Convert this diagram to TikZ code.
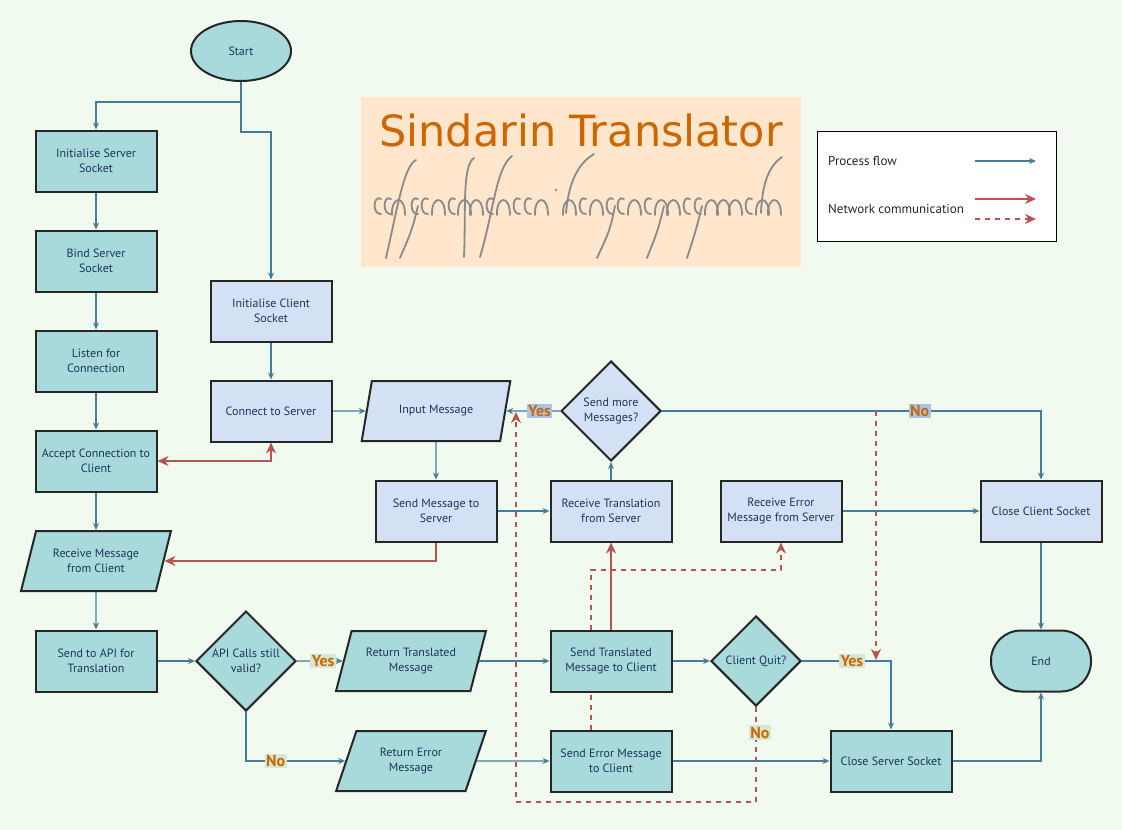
\documentclass[tikz,border=0pt]{standalone}
\usepackage{fontspec}
\setmainfont{PT Sans}
\newfontfamily\titlefont{DejaVu Sans}
\usetikzlibrary{arrows.meta,positioning,shapes.geometric,backgrounds}
\definecolor{pagebg}{HTML}{F1FAEE}
\definecolor{srvfill}{HTML}{A8DADC}
\definecolor{clifill}{HTML}{D4E1F5}
\definecolor{flowblue}{HTML}{457B9D}
\definecolor{textnavy}{HTML}{1D3557}
\definecolor{netred}{HTML}{B85450}
\definecolor{lblorange}{HTML}{CC6600}
\definecolor{lblgreen}{HTML}{D5E8D4}
\definecolor{lblblue}{HTML}{A9C4EB}
\definecolor{titlepeach}{HTML}{FFE6CC}
\definecolor{scriptgray}{HTML}{8A8A8A}
\pgfdeclarelayer{edgelayer}
\pgfsetlayers{background,edgelayer,main}
\tikzset{
  base/.style={draw=black!85,line width=2pt,align=center,text=textnavy,
    font=\fontsize{12}{14.5}\selectfont,inner sep=2pt},
  srvbox/.style={base,rectangle,fill=srvfill,minimum width=121pt,minimum height=61pt},
  clibox/.style={srvbox,fill=clifill},
  srvio/.style={base,trapezium,trapezium left angle=67.4,trapezium right angle=112.6,
    trapezium stretches=true,fill=srvfill,minimum width=150pt,minimum height=60pt},
  cliio/.style={srvio,fill=clifill},
  srvdec/.style={base,diamond,fill=srvfill,minimum width=100pt,minimum height=100pt,inner sep=0pt},
  clidec/.style={srvdec,fill=clifill},
  terminal/.style={base,fill=srvfill},
  flow/.style={-{Stealth[length=7pt,width=6pt]},flowblue,line width=1.1pt},
  net/.style={-{Stealth[length=11pt,width=10pt]},netred,line width=2.2pt},
  netboth/.style={net,{Stealth[length=11pt,width=10pt]}-{Stealth[length=11pt,width=10pt]}},
  netdash/.style={net,line width=2pt,dash pattern=on 5pt off 5pt},
  yeslbl/.style={font=\fontsize{16}{16}\selectfont\bfseries,text=lblorange,fill=lblgreen,inner sep=1.5pt},
  yesclbl/.style={yeslbl,fill=lblblue},
  legendtxt/.style={font=\fontsize{13}{15}\selectfont,text=black!85,inner sep=2pt}
}

\begin{document}
\begin{tikzpicture}[x=1pt,y=-1pt]
  % Page
  \useasboundingbox (0,0) rectangle (1122,830);
  \begin{scope}[on background layer]
    \fill[pagebg] (0,0) rectangle (1122,830);
  \end{scope}

  % Title panel
  \node[fill=titlepeach,minimum width=440pt,minimum height=170pt,inner sep=0pt] (panel) at (581,182) {};
  \node[anchor=base,text=lblorange,font=\titlefont\fontsize{43}{43}\selectfont] (title) at (581,146) {Sindarin Translator};
  % Tengwar line
  \begin{scope}[scriptgray,line width=1.8pt,line cap=round]
    \foreach \bx in {373,383,410,420,447,485,512,523,578,605,616,643,682,693,744}
      \draw (\bx+8,199) .. controls (\bx,194) and (\bx-1,215) .. (\bx+8,214);
    \foreach \bx in {392,432,458,470,497,535,563,590,628,655,667,705,717,729,756,768}
      \draw (\bx,215) .. controls (\bx-1,196) and (\bx+13,194) .. (\bx+13,215);
    \draw (416,160) .. controls (404,166) and (398,205) .. (386,258);
    \draw (418,206) .. controls (412,230) .. (400,258);
    \draw (474,158) .. controls (462,166) and (466,210) .. (464,257);
    \draw (512,156) .. controls (496,168) and (494,210) .. (480,257);
    \draw (594,154) .. controls (574,166) and (568,190) .. (566,213);
    \draw (615,206) .. controls (610,230) .. (597,258);
    \draw (664,206) .. controls (658,230) .. (647,258);
    \draw (702,206) .. controls (696,230) .. (687,258);
    \draw (782,157) .. controls (766,168) and (762,190) .. (761,213);
    \fill (556,190) circle (1.3pt);
  \end{scope}

  % Legend
  \node[draw=black,line width=1pt,fill=white,minimum width=239pt,minimum height=110pt] (legend) at (936.5,186) {};
  \node[legendtxt,anchor=west] (lgflow) at (826,161) {Process flow};
  \node[legendtxt,anchor=west] (lgnet) at (826,209) {Network communication};
  \coordinate (lgflowA) at (975,161);
  \coordinate (lgflowB) at (1036,161);
  \coordinate (lgnetA) at (975,199);
  \coordinate (lgnetB) at (1036,199);
  \coordinate (lgdashA) at (975,219);
  \coordinate (lgdashB) at (1036,219);
  \draw[flow] (lgflowA) -- (lgflowB);
  \draw[net] (lgnetA) -- (lgnetB);
  \draw[netdash] (lgdashA) -- (lgdashB);

  % Server side
  \node[terminal,ellipse,minimum width=100pt,minimum height=60pt] (start) at (241,51) {Start};
  \node[srvbox] (initsrv) at (96,161) {Initialise Server\\Socket};
  \node[srvbox] (bindsrv) at (96,261) {Bind Server\\Socket};
  \node[srvbox] (listen) at (96,361) {Listen for\\Connection};
  \node[srvbox] (accept) at (96,461) {Accept Connection to\\Client};
  \node[srvio] (recvmsg) at (96,561) {Receive Message\\from Client};
  \node[srvbox] (sendapi) at (96,661) {Send to API for\\Translation};
  \node[srvdec] (apivalid) at (246,661) {API Calls still\\valid?};
  \node[srvio] (rettrans) at (411,661) {Return Translated\\Message};
  \node[srvio] (reterr) at (411,761) {Return Error\\Message};
  \node[srvbox] (sendtrans) at (611,661) {Send Translated\\Message to Client};
  \node[srvbox] (senderr) at (611,761) {Send Error Message\\to Client};
  \node[srvdec,minimum width=90pt,minimum height=90pt] (quit) at (756,661) {Client Quit?};
  \node[srvbox] (closesrv) at (891,761) {Close Server Socket};
  \node[terminal,rounded corners=30pt,minimum width=100pt,minimum height=61pt] (theend) at (1041,661) {End};

  % Client side
  \node[clibox] (initcli) at (271,311) {Initialise Client\\Socket};
  \node[clibox] (connect) at (271,411) {Connect to Server};
  \node[cliio] (input) at (436,411) {Input Message};
  \node[clibox] (sendmsg) at (436,511) {Send Message to\\Server};
  \node[clidec] (more) at (611,411) {Send more\\Messages?};
  \node[clibox] (recvtrans) at (611,511) {Receive Translation\\from Server};
  \node[clibox] (recverr) at (781,511) {Receive Error\\Message from Server};
  \node[clibox] (closecli) at (1041,511) {Close Client Socket};

  \begin{pgfonlayer}{edgelayer}
    % Process flow, server
    \draw[flow] (start.south) -- ++(0,20) -| (initsrv.north);
    \draw[flow] (start.south) -- ++(0,50) -| (initcli.north);
    \draw[flow] (initsrv) -- (bindsrv);
    \draw[flow] (bindsrv) -- (listen);
    \draw[flow] (listen) -- (accept);
    \draw[flow] (accept) -- (recvmsg);
    \draw[flow] (recvmsg) -- (sendapi);
    \draw[flow] (sendapi) -- (apivalid);
    \draw[flow] (apivalid) -- node[yeslbl,pos=0.57] (yesapi) {Yes} (rettrans);
    \draw[flow] (apivalid.south) |- node[yeslbl,pos=0.65] (noapi) {No} (reterr.west);
    \draw[flow] (rettrans) -- (sendtrans);
    \draw[flow] (reterr) -- (senderr);
    \draw[flow] (sendtrans) -- (quit);
    \draw[flow] (quit.east) -| node[yeslbl,pos=0.28] (yesquit) {Yes} (closesrv.north);
    \draw[flow] (senderr) -- (closesrv);
    \draw[flow] (closesrv.east) -| (theend.south);
    % Process flow, client
    \draw[flow] (initcli) -- (connect);
    \draw[flow] (connect) -- (input);
    \draw[flow] (input) -- (sendmsg);
    \draw[flow] (sendmsg) -- (recvtrans);
    \draw[flow] (recvtrans) -- (more);
    \draw[flow] (more) -- node[yesclbl,pos=0.38] (yesmore) {Yes} (input);
    \draw[flow] (more.east) -| node[yesclbl,pos=0.34] (nomore) {No} (closecli.north);
    \draw[flow] (recverr) -- (closecli);
    \draw[flow] (closecli) -- (theend);
    % Network communication
    \draw[netboth] (connect.south) |- (accept.east);
    \draw[net] (sendmsg.south) |- (recvmsg.east);
    \draw[net] (sendtrans) -- (recvtrans);
    \draw[netdash] ([xshift=-20pt]senderr.north) -- ++(0,-160) -| (recverr.south);
    \coordinate (backtoinput) at (516,412);
    \draw[netdash] (quit.south) -- node[yeslbl,pos=0.27,xshift=4pt] (noquit) {No} ++(0,95) -| (backtoinput);
    \coordinate (nobranch) at (876,411);
    \coordinate (quitjoin) at (876,660);
    \draw[netdash] (nobranch) -- (quitjoin);
  \end{pgfonlayer}
\end{tikzpicture}
\end{document}
